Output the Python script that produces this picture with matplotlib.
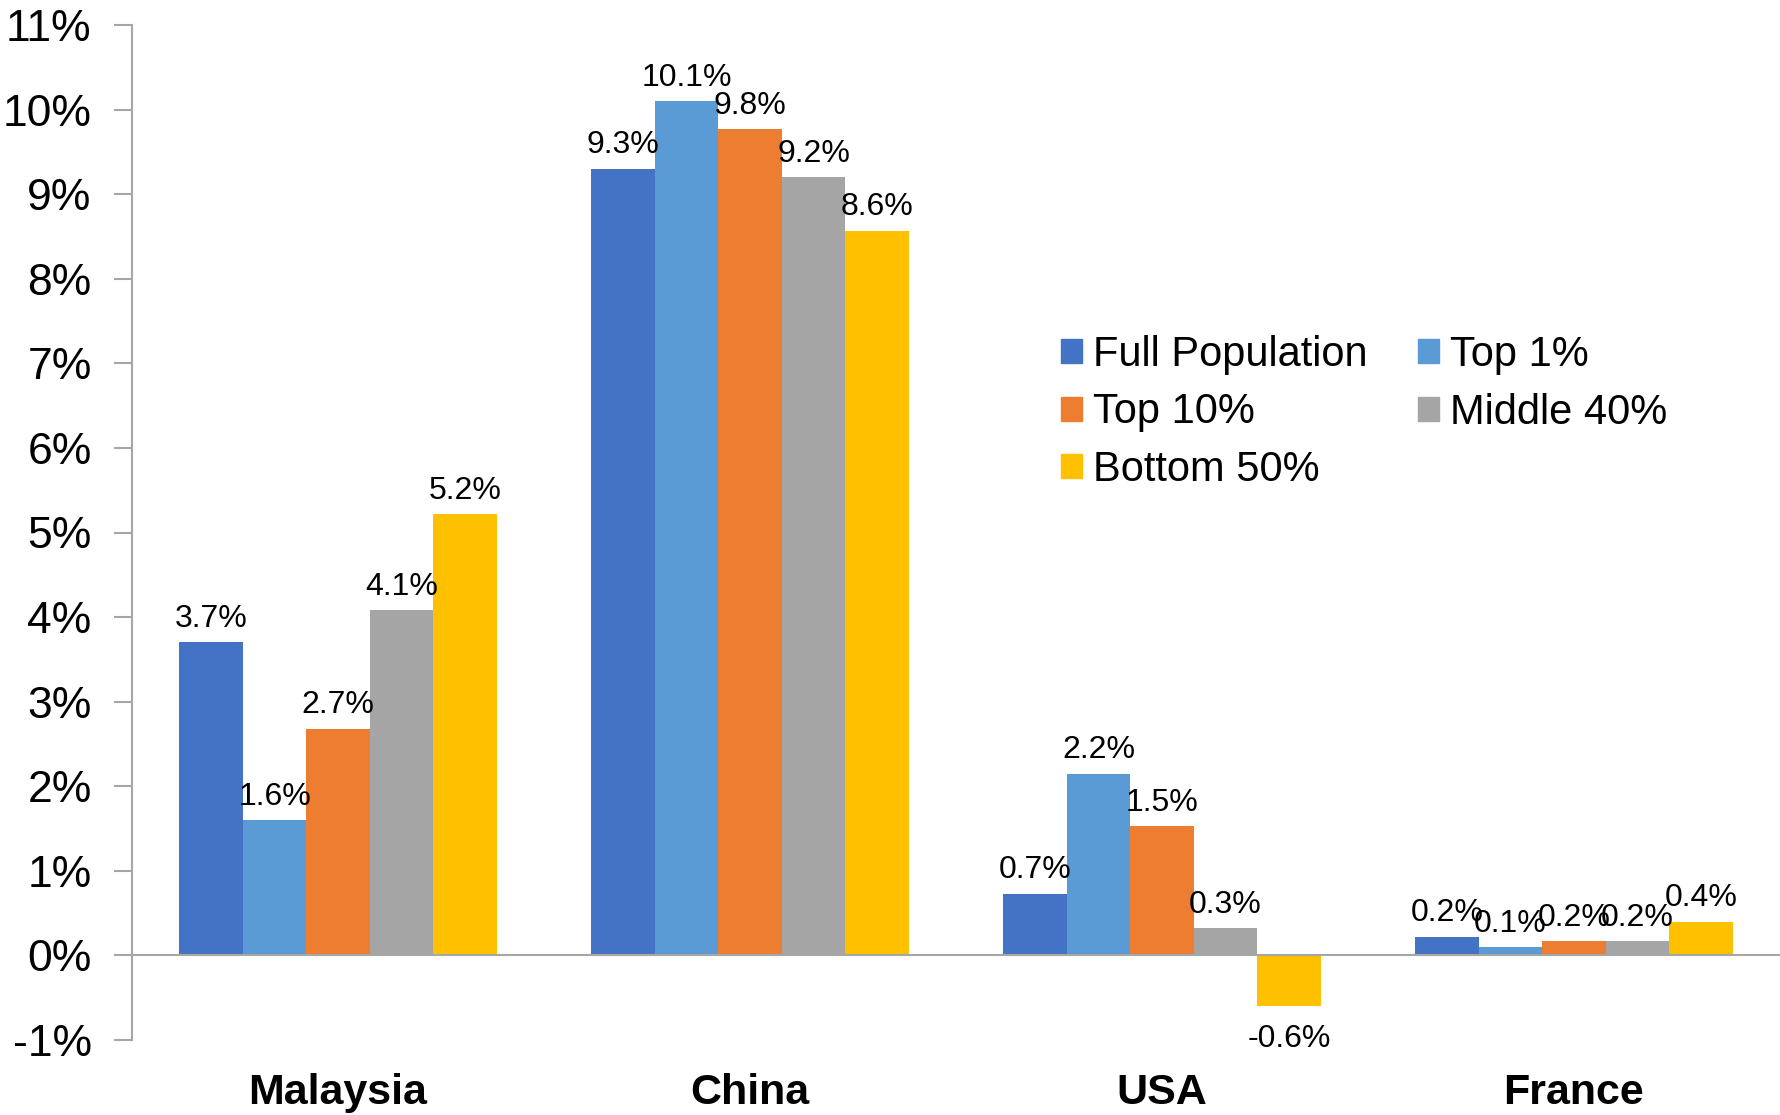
import numpy as np
import matplotlib
matplotlib.use("Agg")
import matplotlib.pyplot as plt
from matplotlib.patches import Patch

plt.rcParams['font.family'] = ['Liberation Sans', 'DejaVu Sans']

paises = ["Malaysia", "China", "USA", "France"]
series = ["Full Population", "Top 1%", "Top 10%", "Middle 40%", "Bottom 50%"]
colores = ["#4472C4", "#5B9BD5", "#ED7D31", "#A5A5A5", "#FFC000"]

full_pop = [3.7, 9.3, 0.73, 0.22]
top1 = [1.6, 10.1, 2.15, 0.1]
top10 = [2.68, 9.77, 1.53, 0.17]
middle40 = [4.08, 9.2, 0.32, 0.17]
bottom50 = [5.22, 8.57, -0.6, 0.4]

etiquetas = [
    ["3.7%", "9.3%", "0.7%", "0.2%"],
    ["1.6%", "10.1%", "2.2%", "0.1%"],
    ["2.7%", "9.8%", "1.5%", "0.2%"],
    ["4.1%", "9.2%", "0.3%", "0.2%"],
    ["5.2%", "8.6%", "-0.6%", "0.4%"],
]

valores = [full_pop, top1, top10, middle40, bottom50]

fig = plt.figure(figsize=(17.8, 11.15), dpi=100)
ax = fig.add_axes([132/1780, 1 - 1040/1115, 1 - 132/1780, (1040 - 25)/1115])

x = np.arange(len(paises))
ancho = 0.154
gris = "#A6A6A6"

for i in range(len(series)):
    pos = x + (i - 2) * ancho
    ax.bar(pos, valores[i], ancho, color=colores[i], zorder=2)
    for j in range(len(paises)):
        v = valores[i][j]
        if v >= 0:
            ax.annotate(etiquetas[i][j], (pos[j], v), xytext=(0, 6),
                        textcoords="offset points", ha="center", va="bottom",
                        fontsize=23)
        else:
            ax.annotate(etiquetas[i][j], (pos[j], v), xytext=(0, -13),
                        textcoords="offset points", ha="center", va="top",
                        fontsize=23)

ax.axhline(0, color=gris, lw=1.5, zorder=3)
ax.set_xlim(-0.5, 3.5)
ax.set_ylim(-1, 11)
ax.set_yticks(range(-1, 12))
ax.set_yticklabels([f"{t}%" for t in range(-1, 12)], fontsize=32)
ax.set_xticks(x)
ax.set_xticklabels(paises, fontsize=31, fontweight="bold")
ax.tick_params(axis="x", length=0, pad=24)
ax.tick_params(axis="y", length=13, width=1.5, color=gris, pad=16)

for s in ["top", "right", "bottom"]:
    ax.spines[s].set_visible(False)
ax.spines["left"].set_color(gris)
ax.spines["left"].set_linewidth(1.5)

# orden por filas: la leyenda de matplotlib llena por columnas
orden = [0, 2, 4, 1, 3]
handles = [Patch(color=colores[k]) for k in orden]
nombres = [series[k] for k in orden]
fig.legend(handles, nombres, loc="upper left",
           bbox_to_anchor=(1061/1780, 1 - 335/1115), ncol=2, frameon=False,
           fontsize=30, handlelength=0.5, handleheight=0.5, handletextpad=0.27,
           columnspacing=1.2, labelspacing=0.42, borderpad=0, borderaxespad=0)

fig.savefig("out.png", dpi=100)
